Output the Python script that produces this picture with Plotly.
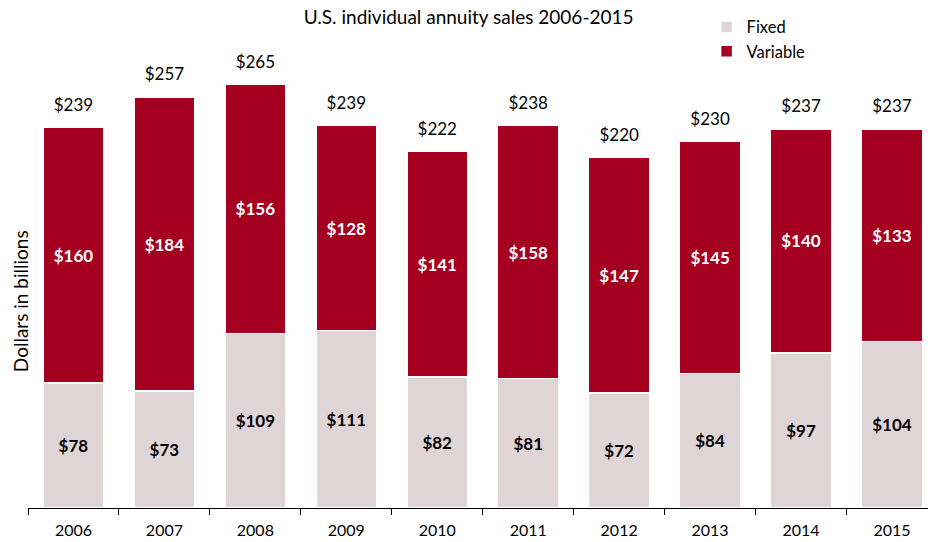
import plotly.graph_objects as go

years = ["2006", "2007", "2008", "2009", "2010", "2011", "2012", "2013", "2014", "2015"]
fixed = [78, 73, 109, 111, 82, 81, 72, 84, 97, 104]
variable = [160, 184, 156, 128, 141, 158, 147, 145, 140, 133]
totals = [239, 257, 265, 239, 222, 238, 220, 230, 237, 237]

FONT = "Lato, 'Open Sans', sans-serif"
FIXED_C = "#e0d5d6"
VAR_C = "#a5001f"

fig = go.Figure()
fig.add_trace(go.Bar(
    x=years, y=fixed, name="Fixed",
    marker=dict(color=FIXED_C, line=dict(color="white", width=1.5)),
    text=[f"${v}" for v in fixed], textposition="inside", insidetextanchor="middle",
    textfont=dict(family=FONT, size=17, color="black", weight="bold"),
    constraintext="none", hoverinfo="skip",
))
fig.add_trace(go.Bar(
    x=years, y=variable, name="Variable",
    marker=dict(color=VAR_C, line=dict(color="white", width=1.5)),
    text=[f"${v}" for v in variable], textposition="inside", insidetextanchor="middle",
    textfont=dict(family=FONT, size=17, color="white", weight="bold"),
    constraintext="none", hoverinfo="skip",
))

stack_tops = [f + v for f, v in zip(fixed, variable)]
fig.add_trace(go.Scatter(
    x=years, y=stack_tops, mode="markers+text",
    text=[f"${t}" for t in totals], textposition="top center",
    marker=dict(size=18, opacity=0, color="white"),
    textfont=dict(family=FONT, size=17, color="black"),
    cliponaxis=False, showlegend=False, hoverinfo="skip",
))

fig.add_annotation(xref="paper", yref="paper", x=-0.009, y=0.407,
                   text="Dollars in billions", textangle=-90, showarrow=False,
                   xanchor="center", yanchor="middle",
                   font=dict(family=FONT, size=19, color="black"))

fig.update_layout(
    width=928, height=542,
    margin=dict(l=28, r=0, t=0, b=34),
    paper_bgcolor="white", plot_bgcolor="white",
    barmode="stack", bargap=0.33,
    title=dict(text="U.S. individual annuity sales 2006-2015", x=0.505, xanchor="center",
               y=0.968, yanchor="middle", font=dict(family=FONT, size=19, color="black")),
    legend=dict(x=0.754, y=0.981, xanchor="left", yanchor="top", traceorder="normal",
                font=dict(family=FONT, size=16.5, color="black"), bgcolor="rgba(0,0,0,0)",
                itemwidth=30, tracegroupgap=2),
    showlegend=True,
    font=dict(family=FONT),
)
fig.update_xaxes(type="category", range=[-0.5, 9.396], showline=True, linecolor="black",
                 linewidth=1, ticks="outside", tickson="boundaries", ticklen=6,
                 tickcolor="black", tickfont=dict(family=FONT, size=16, color="black"),
                 ticklabelstandoff=8, showgrid=False)
fig.update_yaxes(range=[0, 317.5], showticklabels=False, showline=False, showgrid=False,
                 zeroline=False, ticks="")

fig.write_html("out.html", config={"displayModeBar": False},
               post_script="document.body.style.margin='0';")
